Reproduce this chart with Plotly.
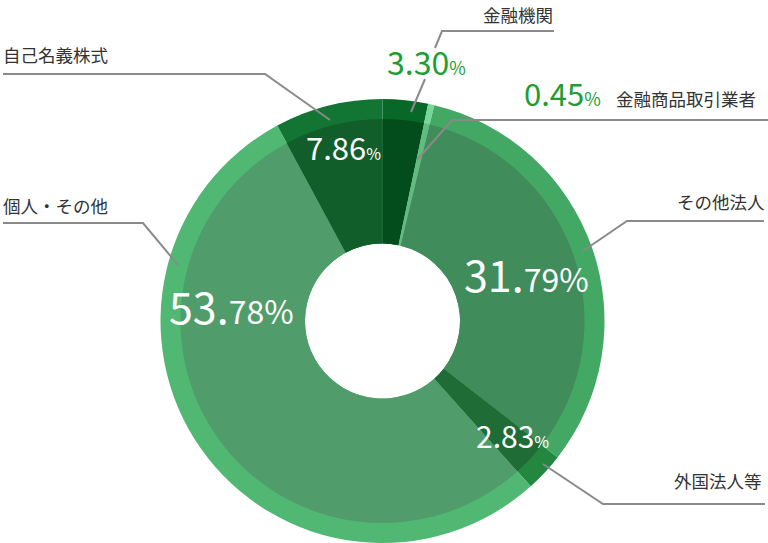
import plotly.graph_objects as go

# ---- data ----
categories = ["金融機関", "金融商品取引業者", "その他法人", "外国法人等", "個人・その他", "自己名義株式"]
values = [3.30, 0.45, 31.79, 2.83, 53.78, 7.86]
inner_colors = ["#024d1b", "#62bb80", "#408c5a", "#1f6c37", "#509c6b", "#115e2b"]
outer_colors = ["#086828", "#77d69a", "#43a864", "#23873f", "#50b873", "#137533"]
# label split style: "int" -> big integer part, smaller decimals; "pct" -> only % small
split_style = ["pct", "pct", "int", "pct", "int", "pct"]
label_inside = [False, False, True, True, True, True]

W, H = 768, 543
CX, CY = 382.5, 321.0
R_OUT, R_IN, R_HOLE = 222.0, 202.0, 77.5


def dom(r):
    x = [(CX - r) / W, (CX + r) / W]
    y = [max(0.0, (H - CY - r) / H), min(1.0, (H - CY + r) / H)]
    return dict(x=x, y=y)


fig = go.Figure()
fig.add_trace(go.Pie(
    labels=categories, values=values, sort=False, direction="clockwise", rotation=0,
    marker=dict(colors=outer_colors, line=dict(width=0)), textinfo="none",
    hole=R_HOLE / R_OUT, domain=dom(R_OUT), showlegend=False, hoverinfo="label+percent"))
fig.add_trace(go.Pie(
    labels=categories, values=values, sort=False, direction="clockwise", rotation=0,
    marker=dict(colors=inner_colors, line=dict(width=0)), textinfo="none",
    hole=R_HOLE / R_IN, domain=dom(R_IN), showlegend=False, hoverinfo="label+percent"))

FONT = "Noto Sans CJK JP"


def px(x, y):
    return x / W, 1 - y / H


# percentage label positions (pixel centers), same order as categories
pct_pos = [(426, 61), (562, 92), (526, 273), (512, 435), (231, 305), (343, 146)]
pct_big = [32, 31, 43, 30, 43, 31]
pct_small = [18, 18, 32, 16, 32, 16]

annotations = []
for i, v in enumerate(values):
    s = f"{v:.2f}"
    if split_style[i] == "int":
        a, b = s.split(".")
        big, small = a + ".", b + "%"
    else:
        big, small = s, "%"
    txt = (f"<span style='font-size:{pct_big[i]}px'>{big}</span>"
           f"<span style='font-size:{pct_small[i]}px'>{small}</span>")
    color = "white" if label_inside[i] else "#1d9e33"
    x, y = px(*pct_pos[i])
    annotations.append(dict(x=x, y=y, xref="paper", yref="paper", text=txt, showarrow=False,
                            xanchor="center", yanchor="middle",
                            font=dict(family=FONT, size=pct_big[i], color=color)))

# category label positions (pixel centers)
cat_pos = [(518, 14), (686, 99), (721, 202), (718, 480), (55, 205), (55, 55)]
for i, c in enumerate(categories):
    x, y = px(*cat_pos[i])
    annotations.append(dict(x=x, y=y, xref="paper", yref="paper", text=c, showarrow=False,
                            xanchor="center", yanchor="middle",
                            font=dict(family=FONT, size=17.5, color="#333333")))

# leader lines (pixel polylines)
leaders = [
    [(554, 31), (442, 31), (435, 48)],
    [(425, 79), (411, 112)],
    [(768, 120), (452, 120), (417, 160)],
    [(764, 221), (627, 221), (583, 251)],
    [(765, 504), (603, 504), (543, 464)],
    [(3, 223), (143, 223), (178, 265)],
    [(3, 74), (265, 74), (330, 120)],
]
shapes = []
for pts in leaders:
    path = "M " + " L ".join(f"{px(x, y)[0]:.5f},{px(x, y)[1]:.5f}" for x, y in pts)
    shapes.append(dict(type="path", path=path, xref="paper", yref="paper",
                       line=dict(color="#8a8a8a", width=2)))

fig.update_layout(width=W, height=H, margin=dict(l=0, r=0, t=0, b=0),
                  paper_bgcolor="white", plot_bgcolor="white",
                  annotations=annotations, shapes=shapes, font=dict(family=FONT))
fig.write_html("out.html", config={"displayModeBar": False})

# remove default page margin so the figure fills the window exactly
with open("out.html", "r", encoding="utf-8") as f:
    html = f.read()
html = html.replace("<head>", "<head><style>html,body{margin:0;padding:0;overflow:hidden;}</style>", 1)
with open("out.html", "w", encoding="utf-8") as f:
    f.write(html)
